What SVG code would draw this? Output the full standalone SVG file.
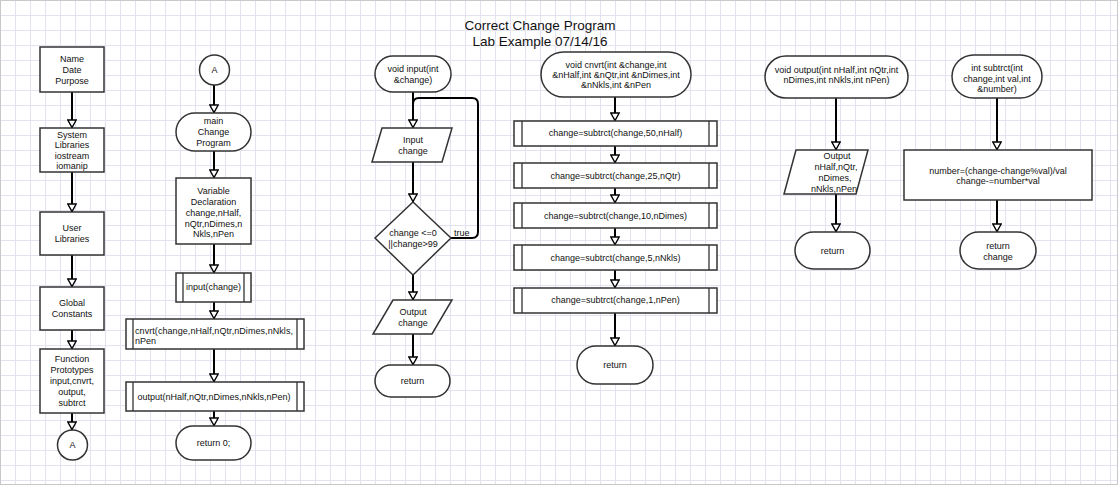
<svg xmlns="http://www.w3.org/2000/svg" width="1118" height="485" viewBox="0 0 1118 485">
<defs>
<pattern id="grid" x="0" y="0" width="15" height="15" patternUnits="userSpaceOnUse">
<rect x="0" y="0" width="1" height="15" fill="#e2e2f0"/>
<rect x="0" y="0" width="15" height="1" fill="#e2e2f0"/>
</pattern>
<marker id="arr" viewBox="0 0 10 10" refX="9.5" refY="5" markerWidth="10" markerHeight="10" markerUnits="userSpaceOnUse" orient="auto">
<path d="M1.5,0.8 L9,5 L1.5,9.2 Z" fill="#fff" stroke="#000" stroke-width="1.4"/>
</marker>
</defs>
<style>
.s{fill:#fff;stroke:#333;stroke-width:1.5}
.l{fill:none;stroke:#333;stroke-width:1.3}
.c{fill:none;stroke:#000;stroke-width:2;marker-end:url(#arr)}
.lp{fill:none;stroke:#000;stroke-width:2}
text{font-family:"Liberation Sans",Arial,sans-serif;font-size:9px;fill:#111;text-anchor:middle}
.t{font-size:13.5px}
.st{text-anchor:start}
</style>
<rect width="1118" height="485" fill="#fff"/>
<rect width="1118" height="485" fill="url(#grid)"/>
<rect x="0.5" y="0.5" width="1117" height="484" fill="none" stroke="#c8c8c8"/>

<g id="title">
<text class="t" x="540" y="30">Correct Change Program</text>
<text class="t" x="540" y="46">Lab Example 07/14/16</text>
</g>

<g id="connectors">
<path class="c" d="M72,92 V128"/>
<path class="c" d="M72,172 V212"/>
<path class="c" d="M72,255 V287"/>
<path class="c" d="M72,330 V349"/>
<path class="c" d="M72,413 V430"/>

<path class="c" d="M214,85 V113"/>
<path class="c" d="M214,151 V178"/>
<path class="c" d="M214,244 V273"/>
<path class="c" d="M214,302 V319"/>
<path class="c" d="M214,349 V382"/>
<path class="c" d="M214,411 V426"/>

<path class="c" d="M413,92 V128"/>
<path class="c" d="M413,162 V202"/>
<path class="lp" d="M451,238 H472 Q478,238 478,232 V104 Q478,98 472,98 H419 Q413,98 413,104 V112"/>
<path class="c" d="M413,275 V300"/>
<path class="c" d="M413,334 V365"/>

<path class="c" d="M615,97 V121"/>
<path class="c" d="M615,146 V163"/>
<path class="c" d="M615,188 V203"/>
<path class="c" d="M615,228 V245"/>
<path class="c" d="M615,270 V288"/>
<path class="c" d="M615,313 V346"/>

<path class="c" d="M836,98 V150"/>
<path class="c" d="M836,194 V232"/>

<path class="c" d="M997,98 V150"/>
<path class="c" d="M997,200 V232"/>
<text class="st" x="454" y="236">true</text>
</g>

<g id="name">
<rect class="s" x="40" y="47" width="64" height="45"/>
<text x="72" y="62">Name</text><text x="72" y="73">Date</text><text x="72" y="84">Purpose</text>
</g>
<g id="syslib">
<rect class="s" x="40" y="128" width="64" height="44"/>
<text x="72" y="137.5">System</text><text x="72" y="148">Libraries</text><text x="72" y="158.5">iostream</text><text x="72" y="169">iomanip</text>
</g>
<g id="userlib">
<rect class="s" x="40" y="212" width="64" height="43"/>
<text x="72" y="231">User</text><text x="72" y="242">Libraries</text>
</g>
<g id="global">
<rect class="s" x="40" y="287" width="64" height="43"/>
<text x="72" y="306">Global</text><text x="72" y="317">Constants</text>
</g>
<g id="protos">
<rect class="s" x="40" y="349" width="64" height="64"/>
<text x="72" y="362">Function</text><text x="72" y="373">Prototypes</text><text x="72" y="384">input,cnvrt,</text><text x="72" y="395">output,</text><text x="72" y="406">subtrct</text>
</g>
<g id="connA1">
<circle class="s" cx="72.5" cy="445" r="15"/>
<text x="72.5" y="448">A</text>
</g>

<g id="connA2">
<circle class="s" cx="214.5" cy="70" r="15"/>
<text x="214.5" y="73">A</text>
</g>
<g id="main">
<rect class="s" x="176" y="113" width="75" height="38" rx="19"/>
<text x="213.5" y="124">main</text><text x="213.5" y="135">Change</text><text x="213.5" y="146">Program</text>
</g>
<g id="vars">
<rect class="s" x="176" y="178" width="75" height="66"/>
<text x="213.5" y="194">Variable</text><text x="213.5" y="205">Declaration</text><text x="213.5" y="216">change,nHalf,</text><text x="213.5" y="227">nQtr,nDimes,n</text><text x="213.5" y="237">Nkls,nPen</text>
</g>
<g id="callinput">
<rect class="s" x="176" y="273" width="75" height="29"/>
<path class="l" d="M183,273 V302 M244,273 V302"/>
<text x="213.5" y="290">input(change)</text>
</g>
<g id="callcnvrt">
<rect class="s" x="126" y="319" width="178" height="30"/>
<path class="l" d="M133,319 V349 M297,319 V349"/>
<text class="st" x="135" y="333.5" textLength="158">cnvrt(change,nHalf,nQtr,nDimes,nNkls,</text>
<text class="st" x="135" y="344">nPen</text>
</g>
<g id="calloutput">
<rect class="s" x="126" y="382" width="178" height="29"/>
<path class="l" d="M133,382 V411 M297,382 V411"/>
<text x="214" y="400">output(nHalf,nQtr,nDimes,nNkls,nPen)</text>
</g>
<g id="ret0">
<rect class="s" x="176" y="426" width="75" height="34" rx="17"/>
<text x="213.5" y="446">return 0;</text>
</g>

<g id="inputfn">
<rect class="s" x="375" y="56" width="76" height="36" rx="18"/>
<text x="413" y="72">void input(int</text><text x="413" y="83">&amp;change)</text>
</g>
<g id="inputchange">
<path class="s" d="M382,128 H452 L442,162 H372 Z"/>
<text x="413" y="143">Input</text><text x="413" y="154">change</text>
</g>
<g id="check">
<path class="s" d="M413,202 L451,238 L413,275 L375,238 Z"/>
<text x="413" y="236">change &lt;=0</text><text x="413" y="247">||change&gt;99</text>
</g>
<g id="outchange">
<path class="s" d="M393,300 H452 L432,334 H373 Z"/>
<text x="413" y="315">Output</text><text x="413" y="326">change</text>
</g>
<g id="ret1">
<rect class="s" x="375" y="365" width="75" height="32" rx="16"/>
<text x="412.5" y="384">return</text>
</g>

<g id="cnvrtfn">
<rect class="s" x="541" y="52" width="150" height="45" rx="22.5"/>
<text x="616" y="68">void cnvrt(int &amp;change,int</text><text x="616" y="78">&amp;nHalf,int &amp;nQtr,int &amp;nDimes,int</text><text x="616" y="88">&amp;nNkls,int &amp;nPen</text>
</g>
<g id="sub50">
<rect class="s" x="514" y="121" width="203" height="25"/>
<path class="l" d="M522,121 V146 M709,121 V146"/>
<text x="615.5" y="136">change=subtrct(change,50,nHalf)</text>
</g>
<g id="sub25">
<rect class="s" x="514" y="163" width="203" height="25"/>
<path class="l" d="M522,163 V188 M709,163 V188"/>
<text x="615.5" y="179">change=subtrct(change,25,nQtr)</text>
</g>
<g id="sub10">
<rect class="s" x="514" y="203" width="203" height="25"/>
<path class="l" d="M522,203 V228 M709,203 V228"/>
<text x="615.5" y="219">change=subtrct(change,10,nDimes)</text>
</g>
<g id="sub5">
<rect class="s" x="514" y="245" width="203" height="25"/>
<path class="l" d="M522,245 V270 M709,245 V270"/>
<text x="615.5" y="261">change=subtrct(change,5,nNkls)</text>
</g>
<g id="sub1">
<rect class="s" x="514" y="288" width="203" height="25"/>
<path class="l" d="M522,288 V313 M709,288 V313"/>
<text x="615.5" y="303">change=subtrct(change,1,nPen)</text>
</g>
<g id="ret2">
<rect class="s" x="577" y="346" width="76" height="38" rx="19"/>
<text x="615" y="368">return</text>
</g>

<g id="outputfn">
<rect class="s" x="765" y="56" width="143" height="42" rx="21"/>
<text x="836.5" y="73">void output(int nHalf,int nQtr,int</text><text x="836.5" y="83">nDimes,int nNkls,int nPen)</text>
</g>
<g id="outvals">
<path class="s" d="M796,150 H868 L856,194 H784 Z"/>
<text x="837" y="159">Output</text><text x="836" y="170">nHalf,nQtr,</text><text x="835" y="181">nDimes,</text><text x="834" y="192">nNkls,nPen</text>
</g>
<g id="ret3">
<rect class="s" x="795" y="232" width="75" height="37" rx="18.5"/>
<text x="832.5" y="254">return</text>
</g>

<g id="subtrctfn">
<rect class="s" x="952" y="55" width="90" height="43" rx="21.5"/>
<text x="997" y="71">int subtrct(int</text><text x="997" y="82">change,int val,int</text><text x="997" y="92">&amp;number)</text>
</g>
<g id="calc">
<rect class="s" x="904" y="150" width="188" height="50"/>
<text x="998" y="174">number=(change-change%val)/val</text><text x="998" y="184">change-=number*val</text>
</g>
<g id="ret4">
<rect class="s" x="960" y="232" width="76" height="37" rx="18.5"/>
<text x="998" y="249">return</text><text x="998" y="260">change</text>
</g>
</svg>
